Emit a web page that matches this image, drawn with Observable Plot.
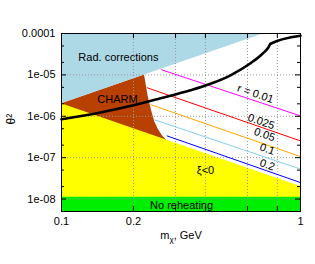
<!DOCTYPE html>
<html><head><meta charset="utf-8">
<script src="https://cdn.jsdelivr.net/npm/d3@7"></script>
<script src="https://cdn.jsdelivr.net/npm/@observablehq/plot@0.6"></script>
<style>
body{margin:0;background:#fff;}
svg{font-family:"Liberation Sans",Arial,sans-serif;}
</style>
</head><body><div id="chart"></div>
<script>
// ---- data ----
const xTicks = [0.1, 0.2, 0.3, 0.4, 0.6, 0.8, 1];
const yTicks = [1e-8, 1e-7, 1e-6, 1e-5, 1e-4];
const yTickLabels = ["1e-08", "1e-07", "1e-06", "1e-05", "0.0001"];
const yMinorTicks = [2e-8, 5e-8, 2e-7, 5e-7, 2e-6, 5e-6, 2e-5, 5e-5];

// regions
const noReheatX = [0.1, 1];
const noReheatTop = [1.1e-8, 1.1e-8];
const xiNegX = [0.1, 1];
const xiNegTop = [2e-6, 2e-8];
const radX = [0.1, 0.707];
const radBottom = [2e-6, 1e-4];
const charmX = [0.1, 0.2225, 0.2306, 0.2379, 0.2457, 0.2546, 0.2646, 0.275];
const charmTop = [2e-6, 9.9e-6, 2.95e-6, 1.39e-6, 7.3e-7, 4.7e-7, 3.35e-7, 2.64e-7];

// thick black bound
const boundX = [0.1, 0.1456, 0.2001, 0.2596, 0.3465, 0.4201, 0.5094, 0.6177, 0.6934, 0.7349, 0.7493, 1.0];
const boundY = [8.5e-7, 1.24e-6, 1.84e-6, 2.71e-6, 4.24e-6, 6.09e-6, 9.78e-6, 1.91e-5, 3.24e-5, 4.66e-5, 5.66e-5, 8.85e-5];

// r lines
const rLabels = ["r = 0.01", "0.025", "0.05", "0.1", "0.2"];
const rStartX = [0.262, 0.2283, 0.2373, 0.2457, 0.2768];
const rStartY = [1.33e-5, 4.88e-6, 1.89e-6, 8.18e-7, 3.35e-7];
const rEndX = [1, 1, 1, 1, 1];
const rEndY = [1.02e-6, 2.54e-7, 1.06e-7, 5.3e-8, 2.5e-8];
const rLabelX = [0.648, 0.685, 0.707, 0.726, 0.726];
const rLabelY = [3.48e-6, 7.45e-7, 3.58e-7, 1.6e-7, 6.65e-8];
const rColors = ["#ff00ff", "#ff0000", "#ffa500", "#87ceeb", "#0000ff"];

// region labels
const regionText = ["Rad. corrections", "CHARM", "ξ<0", "No reheating"];
const regionX = [0.173, 0.1715, 0.4004, 0.318];
const regionY = [2.6e-5, 2.49e-6, 5.04e-8, 7.16e-9];

// ---- build ----
const Y0 = 5e-9, Y1 = 1e-4;
const zip = (xs, ys) => xs.map((x, i) => ({x, y: ys[i]}));
const rData = [];
rLabels.forEach((l, i) => {
  rData.push({k: i, x: rStartX[i], y: rStartY[i]});
  rData.push({k: i, x: rEndX[i], y: rEndY[i]});
});
const rLab = rLabels.map((t, i) => ({t, x: rLabelX[i], y: rLabelY[i]}));
const regLab = regionText.map((t, i) => ({t, x: regionX[i], y: regionY[i]}));

const W = 315, H = 264, mL = 61, mR = 15, mT = 33, mB = 53;
const fw = W - mL - mR, fh = H - mT - mB;

const chart = Plot.plot({
  width: W, height: H,
  marginLeft: mL, marginRight: mR, marginTop: mT, marginBottom: mB,
  style: {fontFamily: '"Liberation Sans", Arial, sans-serif', fontSize: "11px", background: "#fff"},
  x: {type: "log", domain: [0.1, 1]},
  y: {type: "log", domain: [Y0, Y1]},
  marks: [
    Plot.area(zip(charmX, charmTop), {x1: "x", y1: () => Y0, y2: "y", fill: "#b84000"}),
    Plot.area(zip(xiNegX, xiNegTop), {x1: "x", y1: () => Y0, y2: "y", fill: "#ffff00"}),
    Plot.area(zip(noReheatX, noReheatTop), {x1: "x", y1: () => Y0, y2: "y", fill: "#00ee00"}),
    Plot.area(zip(radX, radBottom), {x1: "x", y1: "y", y2: () => Y1, fill: "#add8e6"}),
    Plot.gridX(xTicks.slice(1, -1), {stroke: "#999", strokeOpacity: 1, strokeDasharray: "1,2"}),
    Plot.gridY(yTicks.slice(0, -1), {stroke: "#999", strokeOpacity: 1, strokeDasharray: "1,2"}),
    Plot.line(rData, {x: "x", y: "y", z: "k", stroke: d => rColors[d.k], strokeWidth: 1}),
    Plot.line(zip(boundX, boundY), {x: "x", y: "y", stroke: "black", strokeWidth: 2.6, curve: "monotone-x"}),
    Plot.text(rLab, {x: "x", y: "y", text: "t", rotate: 19, fill: "black", fontSize: 11}),
    Plot.text(regLab, {x: "x", y: "y", text: "t", fill: "black", fontSize: 11}),
    // inward ticks
    Plot.tickX(xTicks, {x: d => d, insetTop: fh - 5, stroke: "black"}),
    Plot.tickX(xTicks, {x: d => d, insetBottom: fh - 5, stroke: "black"}),
    Plot.tickY(yTicks, {y: d => d, insetRight: fw - 5, stroke: "black"}),
    Plot.tickY(yTicks, {y: d => d, insetLeft: fw - 5, stroke: "black"}),
    Plot.tickY(yMinorTicks, {y: d => d, insetRight: fw - 3, stroke: "black"}),
    Plot.tickY(yMinorTicks, {y: d => d, insetLeft: fw - 3, stroke: "black"}),
    Plot.frame({stroke: "black", strokeWidth: 1}),
    Plot.axisX(xTicks, {tickSize: 0, tickPadding: 6, tickFormat: d => String(d), label: null, fontSize: 11}),
    Plot.axisY(yTicks, {tickSize: 0, tickPadding: 6, tickFormat: d => yTickLabels[yTicks.indexOf(d)], label: null, fontSize: 11}),
    Plot.text(["θ²"], {frameAnchor: "left", dx: -50, dy: 2, rotate: -90, fontSize: 12, fill: "black"}),
    Plot.text(["mχ, GeV"], {frameAnchor: "bottom", dy: 27, fontSize: 11, fill: "black"})
  ]
});
document.getElementById("chart").appendChild(chart);

// subscript chi in x label
d3.select(chart).selectAll("text").filter(function() { return this.textContent === "mχ, GeV"; })
  .each(function() {
    const t = d3.select(this);
    t.text("");
    t.append("tspan").text("m");
    t.append("tspan").attr("dy", "3").attr("font-size", "8").text("χ");
    t.append("tspan").attr("dy", "-3").text(", GeV");
  });
</script>
</body></html>
